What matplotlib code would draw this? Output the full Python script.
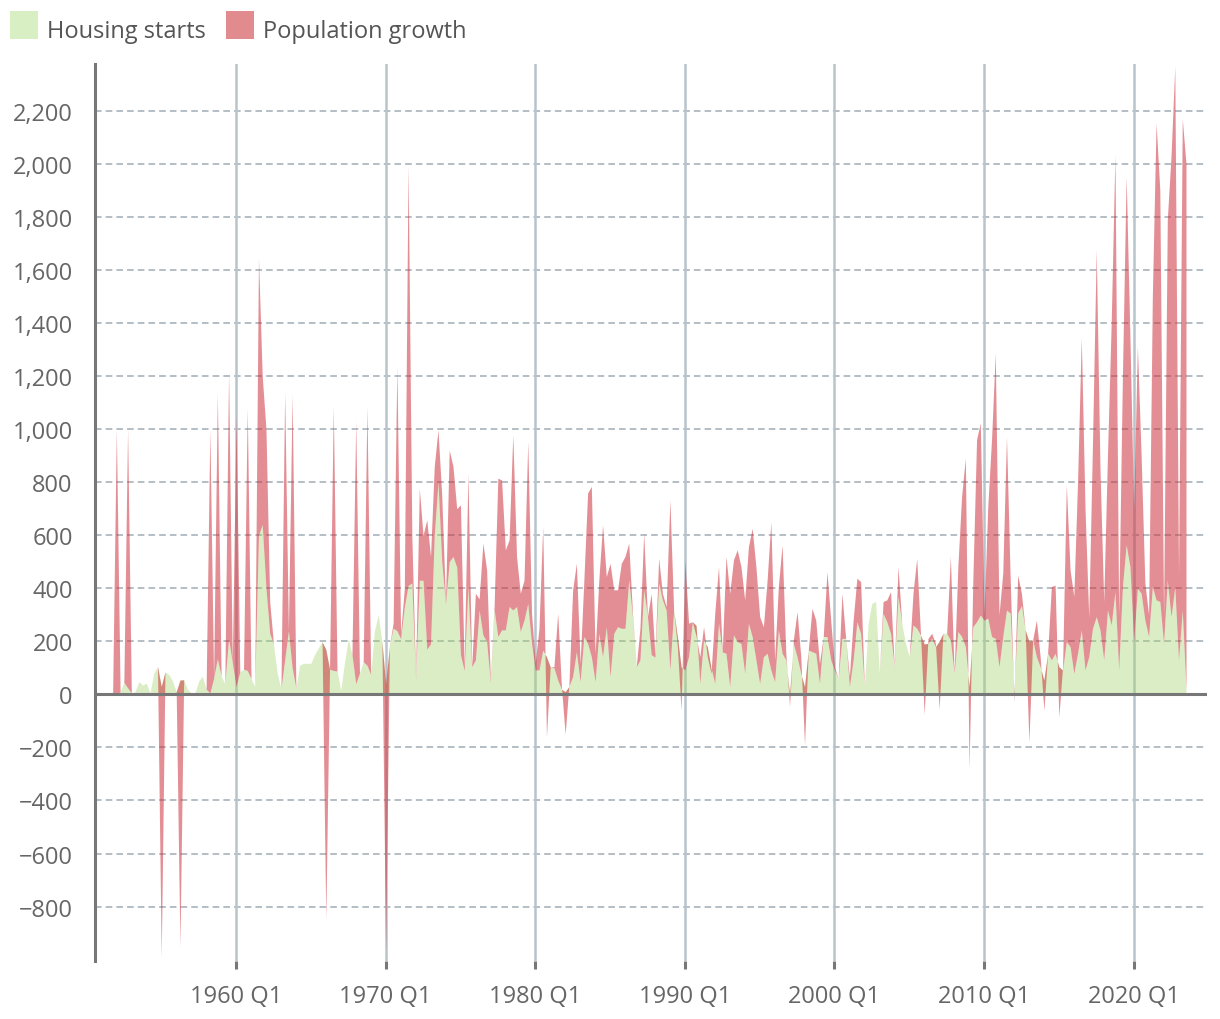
import numpy as np
import matplotlib.pyplot as plt
from matplotlib.patches import Rectangle
from matplotlib.ticker import FuncFormatter

plt.rcParams['font.family'] = ['Open Sans', 'DejaVu Sans']

# quarterly series, first quarter is 1951 Q4
first_quarter = 1951.75

# housing starts (green area)
h_1950s = [0, 0, 10, 45, 25, 5, 10, 48, 35, 42, 5, 80, 105, 30, 85, 75, 50,
           10, 54, 55, 20, 5, 5, 50, 68, 20, 5, 60, 135, 70, 40, 210, 120]
h_1960s = [30, 85, 95, 90, 60, 30, 600, 640, 400, 230,
           190, 80, 20, 130, 240, 100, 25, 110, 117, 117,
           117, 150, 175, 198, 170, 95, 90, 88, 15, 120,
           210, 150, 40, 80, 123, 110, 75, 240, 300, 200]
h_1970s = [40, 180, 250, 240, 210, 330, 410, 420, 60, 430,
           430, 170, 190, 600, 800, 500, 340, 500, 520, 480,
           150, 90, 406, 104, 130, 318, 224, 200, 45, 320,
           218, 243, 243, 331, 318, 331, 237, 280, 343, 192]
h_1980s = [92, 92, 167, 142, 104, 100, 54, 20, 10, 30,
           67, 161, 48, 218, 192, 142, 48, 230, 142, 255,
           67, 230, 255, 249, 249, 431, 293, 104, 130, 394,
           293, 150, 140, 419, 356, 318, 92, 318, 218, 104]
h_1990s = [92, 142, 274, 260, 41, 205, 180, 100, 41, 268,
           160, 155, 29, 224, 199, 192, 79, 268, 218, 130,
           41, 142, 155, 92, 48, 243, 155, 130, 0, 192,
           142, 79, 29, 167, 161, 155, 41, 218, 218, 130]
h_2000s = [92, 60, 211, 211, 29, 130, 274, 230, 29, 268,
           343, 350, 79, 306, 274, 230, 104, 369, 268, 192,
           142, 262, 249, 224, 190, 192, 211, 180, 200, 230,
           230, 205, 79, 237, 218, 180, 29, 255, 274, 299]
h_2010s = [280, 287, 218, 211, 104, 218, 318, 306, 0, 306,
           335, 243, 200, 205, 142, 104, 54, 155, 130, 155,
           104, 92, 199, 180, 79, 155, 243, 92, 142, 249,
           293, 243, 130, 318, 262, 387, 92, 406, 564, 482]
h_2020s = [200, 400, 381, 280, 218, 406, 356, 350, 192, 431, 293, 406, 130, 318, 20]

# population growth (red area, stacked on housing starts)
p_1950s = [0, 1000, 0, 0, 975, 0, 0, 0, 0, 0, 0, 0, 0, -1020, 0, 0, 0, 0,
           -1004, 0, 0, 0, 0, 0, 0, 0, 995, 0, 1000, 0, 0, 1008, 0]
p_1960s = [1020, 0, 0, 990, 0, 0, 1045, 560, 600, 120,
           0, 0, 0, 1008, 0, 1030, 0, 0, 0, 0,
           0, 0, 0, 0, -1020, 0, 995, 0, 0, 0,
           0, 0, 990, 0, 0, 975, 0, 0, 0, 0]
p_1970s = [-1000, 0, 20, 997, 20, 70, 1587, 180, 10, 347,
           170, 488, 330, 260, 197, 250, 10, 421, 340, 220,
           564, 14, 428, 0, 251, 42, 346, 270, 10, 11,
           597, 565, 302, 251, 661, 189, 144, 151, 610, 114]
p_1980s = [28, 157, 466, -302, 0, 4, 252, 9, -160, 5,
           327, 333, 69, 213, 567, 642, 107, 201, 497, 189,
           427, 164, 139, 245, 271, 139, 13, 0, 120, 214,
           0, 230, 10, 94, 25, 13, 641, 0, -38, -164]
p_1990s = [415, 126, 0, -40, 101, 50, -38, -21, 265, 214,
           0, 365, 352, 283, 346, 290, 277, 289, 408, 352,
           252, 113, 276, 559, 82, 163, 408, 25, -44, 13,
           170, 63, -219, 0, 163, 125, 76, 0, 245, 150]
p_2000s = [12, 0, 170, 0, 38, 150, 164, 195, 0, 0,
           0, 0, 0, 44, 82, 157, 0, 113, 0, 0,
           0, 119, 264, 6, -265, 19, 19, 12, -255, 0,
           0, 315, 0, 245, 528, 711, -312, 176, 686, 724]
p_2010s = [26, 421, 742, 1077, 196, 239, 654, 125, -30, 144,
           45, 0, -380, 0, 138, 38, -114, 0, 276, 257,
           -189, 12, 591, 289, 290, 645, 1102, 608, 148, 701,
           1384, 607, 220, 582, 1138, 1648, 208, 794, 1389, 868]
p_2020s = [500, 912, 519, 140, 82, 1094, 1798, 1550, 108, 1359, 1737, 1962, 320, 1852, 1980]

tick_years = [1960, 1970, 1980, 1990, 2000, 2010, 2020]
tick_labels = [f"{y} Q1" for y in tick_years]
y_ticks = list(range(-800, 2201, 200))

housing = np.array(h_1950s + h_1960s + h_1970s + h_1980s + h_1990s + h_2000s + h_2010s + h_2020s, float)
pop_growth = np.array(p_1950s + p_1960s + p_1970s + p_1980s + p_1990s + p_2000s + p_2010s + p_2020s, float)
x = first_quarter + np.arange(len(housing)) / 4

fig = plt.figure(figsize=(12.2, 10.2), dpi=100)
ax = fig.add_axes([0.0779, 0.0569, 0.9114, 0.8791])
ax.set_xlim(1950.575, 2024.9)
ax.set_ylim(-1005, 2375)

for yv in y_ticks:
    if yv != 0:
        ax.axhline(yv, color='#b4bec4', lw=1.4, ls=(0, (3.4, 2.1)), zorder=0.5)
for yr in tick_years:
    ax.axvline(yr, color='#b8c4cc', lw=1.8, zorder=0.5)

ax.fill_between(x, 0, housing, color=(163/255, 212/255, 110/255), alpha=0.4, lw=0, zorder=1)
ax.fill_between(x, housing, housing + pop_growth, color=(205/255, 50/255, 60/255), alpha=0.55, lw=0, zorder=2)

ax.axhline(0, color='#777777', lw=2.2, zorder=3)

for s in ['top', 'right', 'bottom']:
    ax.spines[s].set_visible(False)
ax.spines['left'].set_color('#777777')
ax.spines['left'].set_linewidth(2.2)

ax.set_yticks(y_ticks)
ax.yaxis.set_major_formatter(FuncFormatter(lambda v, p: f"{v:,.0f}".replace('-', '\u2212')))
ax.tick_params(axis='y', length=0, labelsize=17, labelcolor='#666666', pad=16)
ax.set_xticks(tick_years)
ax.set_xticklabels(tick_labels)
ax.tick_params(axis='x', length=5.5, width=2.2, color='#777777', labelsize=17, labelcolor='#666666', pad=11)

# legend
W, H = 1220, 1020
leg = [('Housing starts', '#d8efc4', 10, 47), ('Population growth', '#e28b8f', 226, 263)]
for label, col, bx, tx in leg:
    fig.add_artist(Rectangle((bx / W, 1 - 40 / H), 28 / W, 28 / H, transform=fig.transFigure,
                             facecolor=col, edgecolor='none'))
    fig.text(tx / W, 1 - 38.5 / H, label, fontsize=17, color='#555555', va='baseline')

fig.savefig('out.png', dpi=100)
